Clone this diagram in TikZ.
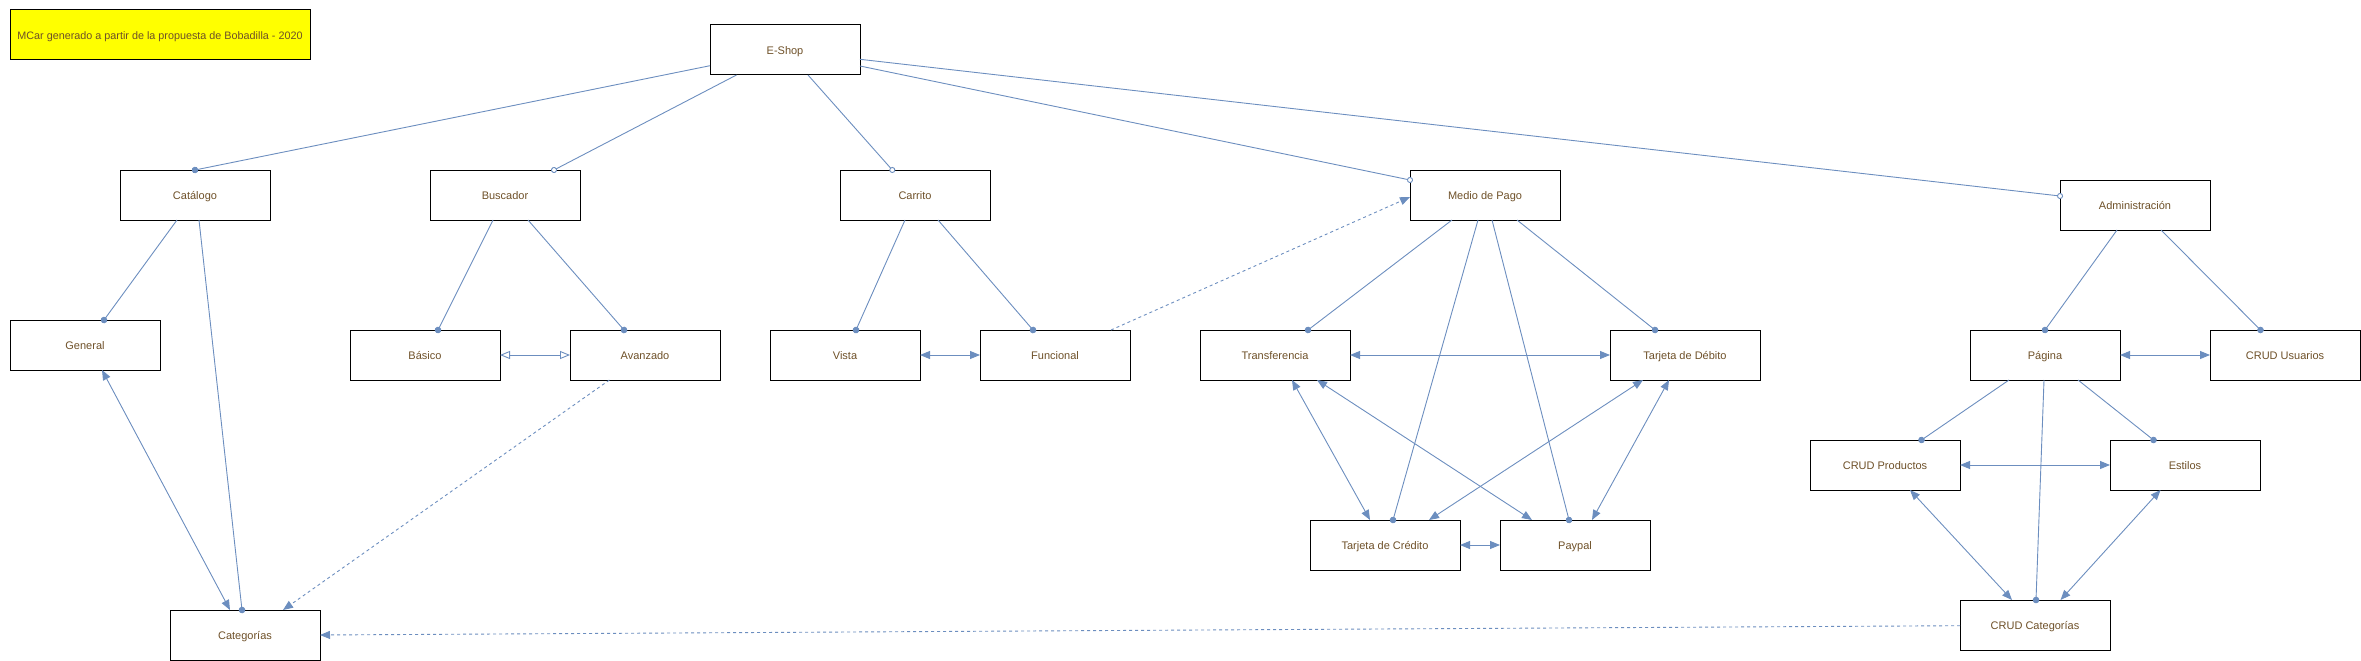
\documentclass[tikz,border=0pt]{standalone}
\usepackage{fontspec}
\setmainfont{Liberation Sans}
\usetikzlibrary{arrows.meta}
\definecolor{edgec}{HTML}{6C8EBF}
\definecolor{txtc}{HTML}{6E5028}
\definecolor{titlefill}{HTML}{FFFF00}
\begin{document}
\begin{tikzpicture}[x=1pt,y=-1pt,
  box/.style={draw=black,line width=1pt,minimum width=150pt,minimum height=50pt,inner sep=0pt,outer sep=0pt,text=txtc,text height=12pt,text depth=2.6pt,font=\fontsize{11}{13}\selectfont},
  titlebox/.style={box,fill=titlefill,minimum width=300pt,font=\fontsize{10.8}{13}\selectfont},
  conn/.style={draw=edgec,line width=0.9pt},
  dashconn/.style={conn,dash pattern=on 3pt off 3pt},
  dotend/.style={-{Circle[length=6.5pt,fill=edgec]},shorten >=-3.25pt},
  ringend/.style={-{Circle[open,length=6pt,fill=white]},shorten >=-3pt},
  tipend/.style={-{Triangle[length=10pt,width=8pt,fill=edgec]}},
  bitips/.style={{Triangle[length=10pt,width=8pt,fill=edgec]}-{Triangle[length=10pt,width=8pt,fill=edgec]}},
  openbitips/.style={{Triangle[open,length=10pt,width=8pt,fill=white]}-{Triangle[open,length=10pt,width=8pt,fill=white]}}
]
\useasboundingbox (0,0) rectangle (2361,661);

% nodes
\node[titlebox] (title) at (160,35) {MCar generado a partir de la propuesta de Bobadilla - 2020};
\node[box] (eshop) at (785,50) {E-Shop};
\node[box] (catalogo) at (195,195) {Catálogo};
\node[box] (buscador) at (505,195) {Buscador};
\node[box] (carrito) at (915,195) {Carrito};
\node[box] (mdp) at (1485,195) {Medio de Pago};
\node[box] (admin) at (2135,205) {Administración};
\node[box] (general) at (85,345) {General};
\node[box] (basico) at (425,355) {Básico};
\node[box] (avanzado) at (645,355) {Avanzado};
\node[box] (vista) at (845,355) {Vista};
\node[box] (funcional) at (1055,355) {Funcional};
\node[box] (transf) at (1275,355) {Transferencia};
\node[box] (tdd) at (1685,355) {Tarjeta de Débito};
\node[box] (pagina) at (2045,355) {Página};
\node[box] (crudu) at (2285,355) {CRUD Usuarios};
\node[box] (crudp) at (1885,465) {CRUD Productos};
\node[box] (estilos) at (2185,465) {Estilos};
\node[box] (tdc) at (1385,545) {Tarjeta de Crédito};
\node[box] (paypal) at (1575,545) {Paypal};
\node[box] (categorias) at (245,635) {Categorías};
\node[box] (crudc) at (2035,625) {CRUD Categorías};

% E-Shop children
\draw[conn,dotend] ([shift={(-75,15.7)}]eshop.center) -- (catalogo.north);
\draw[conn,ringend] ([shift={(-48.5,25)}]eshop.center) -- ([shift={(49,-25)}]buscador.center);
\draw[conn,ringend] ([shift={(23,25)}]eshop.center) -- ([shift={(-22.7,-25)}]carrito.center);
\draw[conn,ringend] ([shift={(75,16)}]eshop.center) -- ([shift={(-75,-15)}]mdp.center);
\draw[conn,ringend] ([shift={(75,9.3)}]eshop.center) -- ([shift={(-75,-9)}]admin.center);

% Catalogo
\draw[conn,dotend] ([shift={(-18,25)}]catalogo.center) -- ([shift={(19,-25)}]general.center);
\draw[conn,dotend] ([shift={(4,25)}]catalogo.center) -- ([shift={(-3,-25)}]categorias.center);
\draw[conn,bitips] ([shift={(17,25)}]general.center) -- ([shift={(-15,-25)}]categorias.center);
\draw[dashconn,tipend] ([shift={(-35.6,25)}]avanzado.center) -- ([shift={(38,-25)}]categorias.center);
\draw[dashconn,tipend] ([shift={(-75,0.7)}]crudc.center) -- (categorias.east);

% Buscador
\draw[conn,dotend] ([shift={(-12,25)}]buscador.center) -- ([shift={(13,-25)}]basico.center);
\draw[conn,dotend] ([shift={(23,25)}]buscador.center) -- ([shift={(-21,-25)}]avanzado.center);
\draw[conn,openbitips] (basico.east) -- (avanzado.west);

% Carrito
\draw[conn,dotend] ([shift={(-10,25)}]carrito.center) -- ([shift={(11,-25)}]vista.center);
\draw[conn,dotend] ([shift={(23,25)}]carrito.center) -- ([shift={(-22,-25)}]funcional.center);
\draw[conn,bitips] (vista.east) -- (funcional.west);
\draw[dashconn,tipend] ([shift={(56,-25)}]funcional.center) -- ([shift={(-75,2)}]mdp.center);

% Medio de Pago
\draw[conn,dotend] ([shift={(-33,25)}]mdp.center) -- ([shift={(33,-25)}]transf.center);
\draw[conn,dotend] ([shift={(32,25)}]mdp.center) -- ([shift={(-30,-25)}]tdd.center);
\draw[conn,dotend] ([shift={(-7,25)}]mdp.center) -- ([shift={(8,-25)}]tdc.center);
\draw[conn,dotend] ([shift={(7,25)}]mdp.center) -- ([shift={(-6,-25)}]paypal.center);
\draw[conn,bitips] (transf.east) -- (tdd.west);
\draw[conn,bitips] ([shift={(17,25)}]transf.center) -- ([shift={(-15,-25)}]tdc.center);
\draw[conn,bitips] ([shift={(42,25)}]transf.center) -- ([shift={(-43,-25)}]paypal.center);
\draw[conn,bitips] ([shift={(-42,25)}]tdd.center) -- ([shift={(44,-25)}]tdc.center);
\draw[conn,bitips] ([shift={(-16,25)}]tdd.center) -- ([shift={(17,-25)}]paypal.center);
\draw[conn,bitips] (tdc.east) -- (paypal.west);

% Administracion
\draw[conn,dotend] ([shift={(-18,25)}]admin.center) -- (pagina.north);
\draw[conn,dotend] ([shift={(26,25)}]admin.center) -- ([shift={(-24.5,-25)}]crudu.center);
\draw[conn,bitips] (pagina.east) -- (crudu.west);
\draw[conn,dotend] ([shift={(-36,25)}]pagina.center) -- ([shift={(36.5,-25)}]crudp.center);
\draw[conn,dotend] ([shift={(33,25)}]pagina.center) -- ([shift={(-31.5,-25)}]estilos.center);
\draw[conn,dotend] ([shift={(-1,25)}]pagina.center) -- ([shift={(1,-25)}]crudc.center);
\draw[conn,bitips] (crudp.east) -- (estilos.west);
\draw[conn,bitips] ([shift={(25,25)}]crudp.center) -- ([shift={(-23,-25)}]crudc.center);
\draw[conn,bitips] ([shift={(-24.5,25)}]estilos.center) -- ([shift={(25.5,-25)}]crudc.center);
\end{tikzpicture}
\end{document}
